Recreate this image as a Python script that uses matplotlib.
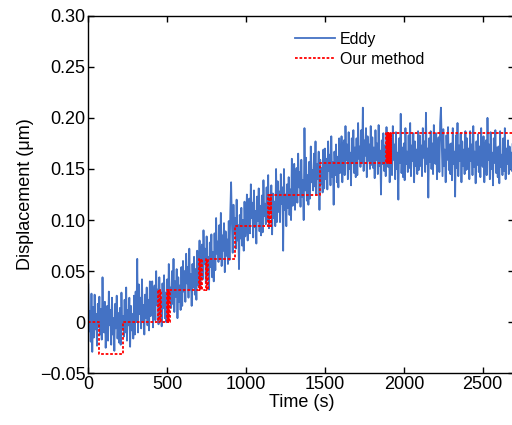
import matplotlib
matplotlib.use('Agg')
import matplotlib.pyplot as plt
import numpy as np
from matplotlib.ticker import FuncFormatter

plt.rcParams['font.family'] = ['Liberation Sans', 'DejaVu Sans']

# Eddy sensor trace, read every 5 s (um), one row per 100 s
eddy_dt = 5
eddy = [
    0.037, -0.009, 0.011, -0.019, 0.028, -0.029, 0.015, -0.015, 0.027, -0.007, 0.008, -0.023, 0.018, -0.005, 0.025, -0.012, 0.013, -0.017, 0.044, -0.003,
    -0.01, 0.02, -0.025, 0.006, 0.016, -0.018, 0.03, -0.003, 0.012, -0.022, 0.024, -0.012, 0.004, -0.028, 0.018, -0.006, 0.026, -0.016, 0.009, -0.02,
    0.014, -0.022, 0.029, -0.006, 0.006, -0.014, 0.022, -0.01, 0.034, -0.018, 0.012, -0.003, 0.024, -0.024, 0.016, -0.008, 0.008, -0.016, 0.026, -0.012,
    0.03, 0.0, 0.062, -0.01, 0.037, 0.008, 0.024, -0.006, 0.042, 0.002, 0.017, -0.012, 0.027, 0.004, 0.034, -0.003, 0.022, -0.008, 0.04, 0.006,
    0.01, 0.04, -0.005, 0.026, 0.036, 0.002, 0.05, 0.017, 0.032, -0.002, 0.044, 0.008, 0.024, -0.004, 0.038, 0.014, 0.046, 0.004, 0.029, 0.0,
    0.042, 0.006, 0.057, 0.022, 0.034, 0.014, 0.05, 0.018, 0.062, 0.01, 0.04, 0.025, 0.052, 0.004, 0.044, 0.02, 0.036, 0.012, 0.054, 0.016,
    0.06, 0.03, 0.05, 0.02, 0.067, 0.038, 0.054, 0.024, 0.072, 0.032, 0.047, 0.016, 0.057, 0.034, 0.064, 0.027, 0.052, 0.022, 0.07, 0.036,
    0.05, 0.08, 0.035, 0.066, 0.076, 0.042, 0.09, 0.057, 0.072, 0.038, 0.084, 0.048, 0.064, 0.032, 0.078, 0.054, 0.086, 0.044, 0.069, 0.04,
    0.087, 0.051, 0.102, 0.067, 0.079, 0.059, 0.095, 0.063, 0.107, 0.055, 0.085, 0.07, 0.097, 0.049, 0.089, 0.065, 0.081, 0.057, 0.099, 0.061,
    0.108, 0.137, 0.098, 0.068, 0.115, 0.086, 0.102, 0.072, 0.12, 0.08, 0.095, 0.052, 0.105, 0.082, 0.112, 0.075, 0.1, 0.07, 0.118, 0.084,
    0.095, 0.125, 0.08, 0.111, 0.121, 0.087, 0.135, 0.102, 0.117, 0.083, 0.129, 0.093, 0.109, 0.077, 0.123, 0.099, 0.131, 0.089, 0.114, 0.085,
    0.124, 0.088, 0.139, 0.104, 0.116, 0.096, 0.132, 0.1, 0.144, 0.092, 0.122, 0.107, 0.134, 0.086, 0.126, 0.102, 0.118, 0.094, 0.15, 0.098,
    0.138, 0.108, 0.128, 0.098, 0.145, 0.116, 0.132, 0.07, 0.15, 0.11, 0.125, 0.094, 0.135, 0.112, 0.142, 0.105, 0.13, 0.1, 0.16, 0.114,
    0.125, 0.155, 0.11, 0.141, 0.151, 0.117, 0.165, 0.132, 0.147, 0.113, 0.159, 0.123, 0.139, 0.1, 0.19, 0.129, 0.161, 0.119, 0.144, 0.115,
    0.157, 0.121, 0.172, 0.137, 0.149, 0.129, 0.165, 0.133, 0.177, 0.125, 0.155, 0.14, 0.167, 0.11, 0.159, 0.135, 0.151, 0.127, 0.169, 0.131,
    0.17, 0.14, 0.16, 0.13, 0.177, 0.148, 0.164, 0.134, 0.182, 0.142, 0.157, 0.115, 0.167, 0.144, 0.174, 0.137, 0.162, 0.132, 0.18, 0.146,
    0.152, 0.182, 0.137, 0.168, 0.178, 0.144, 0.192, 0.159, 0.174, 0.14, 0.186, 0.15, 0.166, 0.134, 0.18, 0.156, 0.188, 0.146, 0.171, 0.142,
    0.18, 0.144, 0.195, 0.16, 0.172, 0.152, 0.188, 0.156, 0.21, 0.148, 0.178, 0.163, 0.19, 0.142, 0.182, 0.158, 0.174, 0.15, 0.192, 0.154,
    0.181, 0.151, 0.171, 0.141, 0.188, 0.159, 0.175, 0.145, 0.193, 0.153, 0.168, 0.125, 0.178, 0.155, 0.185, 0.148, 0.173, 0.143, 0.191, 0.157,
    0.152, 0.182, 0.137, 0.168, 0.178, 0.144, 0.192, 0.159, 0.174, 0.14, 0.186, 0.15, 0.166, 0.12, 0.18, 0.156, 0.204, 0.146, 0.171, 0.142,
    0.175, 0.139, 0.19, 0.155, 0.167, 0.147, 0.183, 0.151, 0.195, 0.143, 0.173, 0.158, 0.185, 0.137, 0.177, 0.153, 0.169, 0.145, 0.187, 0.149,
    0.183, 0.153, 0.173, 0.143, 0.19, 0.161, 0.177, 0.147, 0.205, 0.155, 0.17, 0.122, 0.18, 0.157, 0.187, 0.15, 0.175, 0.145, 0.193, 0.159,
    0.155, 0.185, 0.14, 0.171, 0.181, 0.147, 0.195, 0.21, 0.177, 0.143, 0.189, 0.153, 0.169, 0.137, 0.183, 0.159, 0.191, 0.149, 0.174, 0.145,
    0.175, 0.139, 0.19, 0.155, 0.167, 0.123, 0.183, 0.151, 0.195, 0.143, 0.173, 0.158, 0.185, 0.137, 0.177, 0.153, 0.169, 0.145, 0.187, 0.149,
    0.18, 0.15, 0.17, 0.14, 0.187, 0.158, 0.174, 0.144, 0.192, 0.152, 0.167, 0.136, 0.177, 0.154, 0.184, 0.147, 0.172, 0.142, 0.19, 0.156,
    0.152, 0.182, 0.137, 0.168, 0.178, 0.144, 0.2, 0.159, 0.174, 0.14, 0.186, 0.15, 0.166, 0.134, 0.18, 0.156, 0.188, 0.146, 0.171, 0.142,
    0.172, 0.136, 0.187, 0.152, 0.164, 0.144, 0.18, 0.148, 0.19, 0.14, 0.17, 0.155, 0.178, 0.145, 0.172, 0.15, 0.166, 0.148, 0.175, 0.155,
]
eddy_t = np.arange(len(eddy)) * eddy_dt

# our method: step levels (um) starting at each change time (s)
ours_t = [0, 70, 222, 443, 449, 455, 461, 496, 502, 508, 514, 520,
          702, 708, 714, 720, 748, 754, 760, 928,
          1142, 1147, 1152, 1157, 1161, 1469,
          1889, 1893, 1897, 1901, 1905, 1909, 1913, 1917, 1921, 2700]
ours_v = [0.0, -0.031, 0.0, 0.0315, 0.0, 0.0315, 0.0, 0.0315, 0.0, 0.0315, 0.0, 0.0315,
          0.0616, 0.0315, 0.0616, 0.0315, 0.0616, 0.0315, 0.0616, 0.094,
          0.1245, 0.094, 0.1245, 0.094, 0.1245, 0.1555,
          0.1855, 0.1555, 0.1855, 0.1555, 0.1855, 0.1555, 0.1855, 0.1555, 0.1855, 0.1855]

yticks = [-0.05, 0, 0.05, 0.10, 0.15, 0.20, 0.25, 0.30]
xticks = [0, 500, 1000, 1500, 2000, 2500]

fig = plt.figure(figsize=(5.12, 4.25), dpi=100)
ax = fig.add_axes([0.1725, 0.1216, 0.832, 0.8414])

ax.plot(eddy_t, eddy, color='#4472C4', lw=1.3, label='Eddy')
ax.step(ours_t, ours_v, where='post', color='#FF0000', lw=1.3,
        linestyle=(0, (1.5, 1.0)), label='Our method')

ax.set_xlim(0, 2700)
ax.set_ylim(-0.05, 0.30)
ax.set_xticks(xticks)
ax.set_yticks(yticks)
ax.yaxis.set_major_formatter(FuncFormatter(
    lambda v, p: '0' if abs(v) < 1e-9 else ('%.2f' % v).replace('-', '\u2212')))
ax.tick_params(direction='in', top=True, right=True, length=4, width=1,
               labelsize=13, pad=2)
for s in ax.spines.values():
    s.set_linewidth(1.0)

ax.set_xlabel('Time (s)', fontsize=13, labelpad=1)
ax.set_ylabel('Displacement (\u03bcm)', fontsize=13, labelpad=4)

ax.legend(loc='upper left', bbox_to_anchor=(0.485, 0.955), frameon=False,
          fontsize=11.5, handlelength=2.5, handletextpad=0.3,
          labelspacing=0.3, borderpad=0, borderaxespad=0)

fig.savefig('out.png', dpi=100)
